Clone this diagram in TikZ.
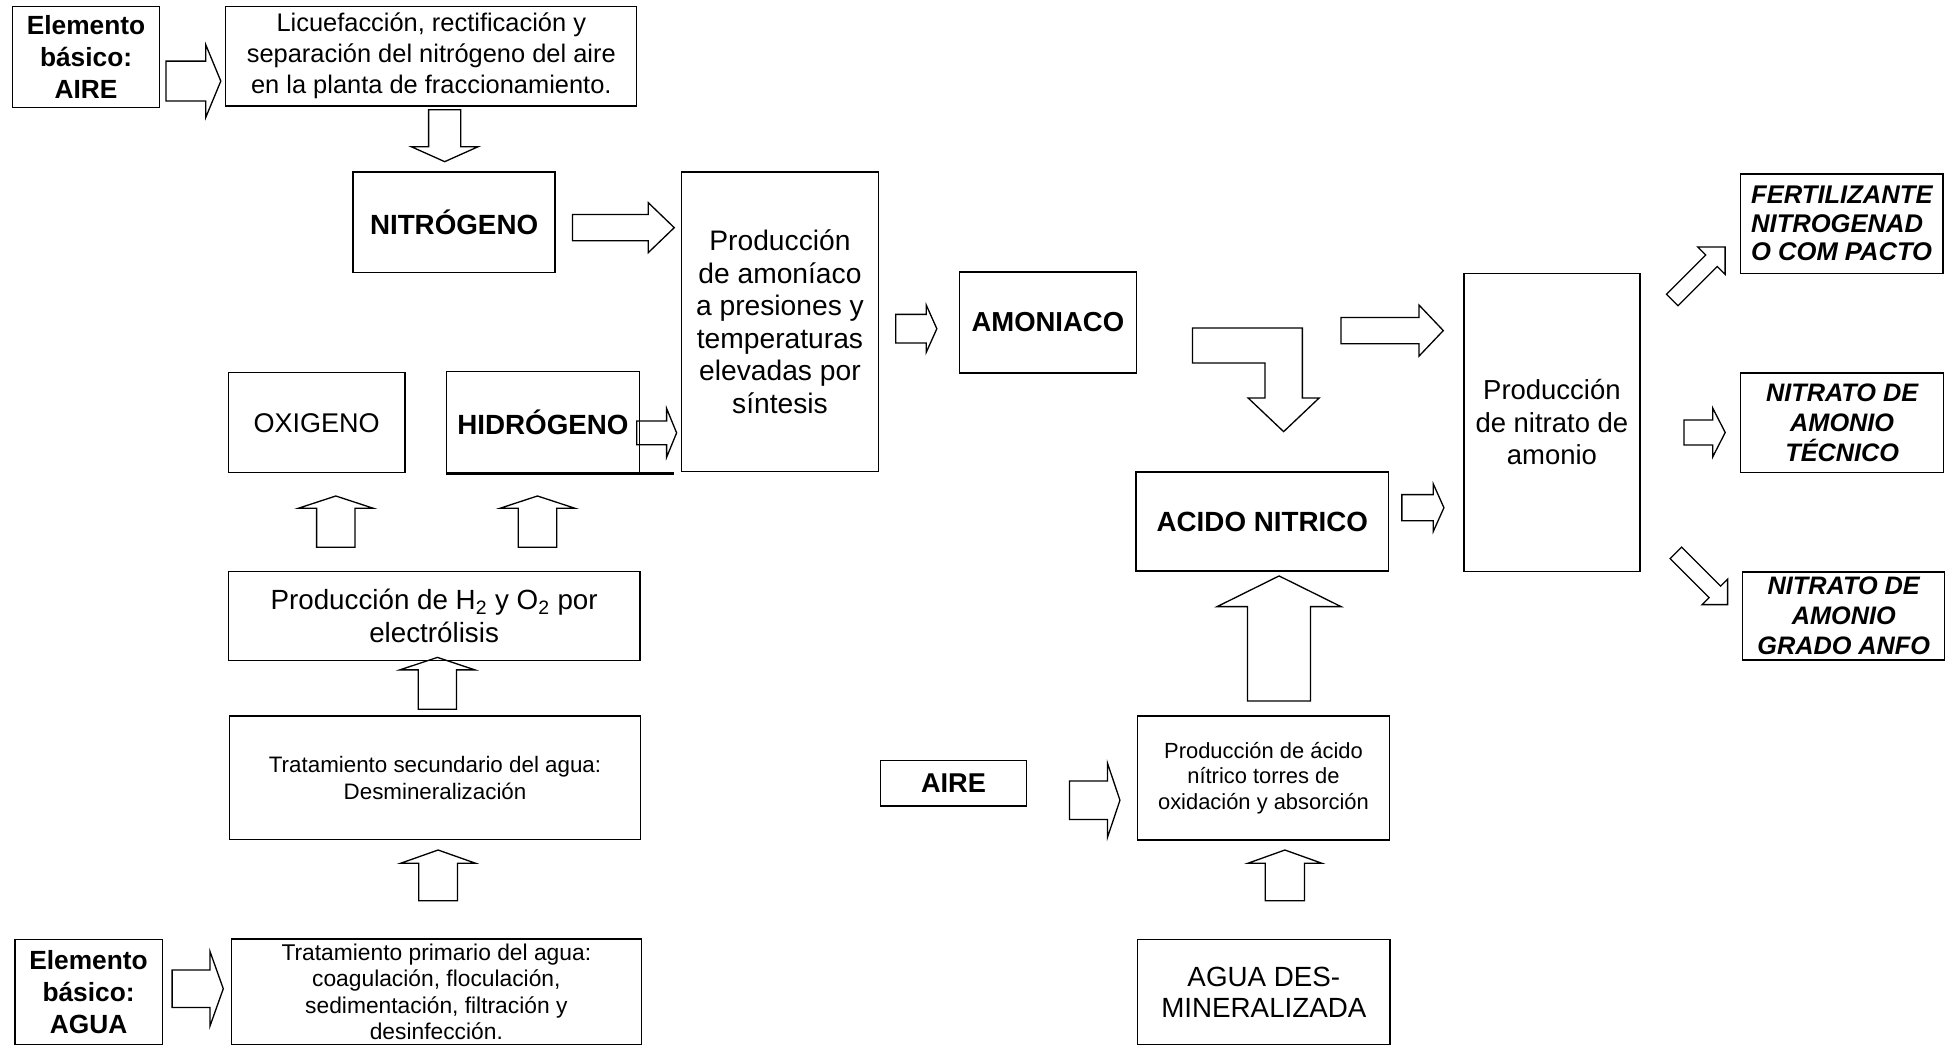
\documentclass[tikz,border=0pt]{standalone}
\usepackage{fontspec}
\setmainfont{Liberation Sans}
\newcommand\fsz[2]{\fontsize{#1}{#2}\selectfont}
% box: [style]{name}{left}{top}{right}{bottom}{text}
\newcommand\bx[7][]{%
  \node[box, #1, minimum width={(#5-#3)*0.3mm}, minimum height={(#6-#4)*0.3mm}]
    (#2) at ({(#3+#5)/2},{(#4+#6)/2}) {#7};}
% tail centre, angle, length, shaft half width, head half width, head length
\newcommand\blockarr[6]{%
  \draw[arrowline, shift={#1}, rotate=#2] (0,-#4) -- ({#3-#6},-#4) -- ({#3-#6},-#5) -- (#3,0)
    -- ({#3-#6},#5) -- ({#3-#6},#4) -- (0,#4) -- cycle;}
\begin{document}
\begin{tikzpicture}[x=0.3mm, y=-0.3mm,
  box/.style={draw, line width=0.9pt, inner sep=0pt, align=center},
  arrowline/.style={draw, line width=0.9pt, line join=miter}]
\useasboundingbox (0,0) rectangle (1568,838.5);

% boxes
\bx[font=\bfseries\fsz{18}{21.8}]{aireA}{10}{5}{128}{86}{Elemento\\básico:\\AIRE}
\bx[font=\fsz{17.4}{21.3}]{licuef}{181}{5}{510.5}{85}{Licuefacción, rectificación y\\separación del nitrógeno del aire\\en la planta de fraccionamiento.}
\bx[font=\bfseries\fsz{19}{22}]{nitro}{283}{138}{445}{218.6}{NITRÓGENO}
\bx[font=\fsz{19.3}{22.2}]{prodam}{546.5}{138}{704}{378}{Producción\\de amoníaco\\a presiones y\\temperaturas\\elevadas por\\síntesis}
\bx[font=\bfseries\fsz{18.8}{22}]{amon}{769}{218}{911}{299}{AMONIACO}
\bx[font=\fsz{18.8}{22.2}]{prodnit}{1173.5}{219}{1314.6}{458}{Producción\\de nitrato de\\amonio}
\bx[font=\bfseries\itshape\fsz{17.5}{19.6}, align=left]{fert}{1395.5}{139.5}{1557.5}{219}{FERTILIZANTE\\NITROGENAD\\O COM PACTO}
\bx[font=\bfseries\itshape\fsz{17.3}{20.5}]{tecn}{1395.5}{299}{1558}{379}{NITRATO DE\\AMONIO\\TÉCNICO}
\bx[font=\bfseries\itshape\fsz{17.3}{20.5}]{anfo}{1397}{458.6}{1559}{529}{NITRATO DE\\AMONIO\\GRADO ANFO}
\bx[font=\fsz{18.5}{22}]{oxi}{183}{298.7}{324.7}{379}{OXIGENO}
\bx[font=\bfseries\fsz{19}{22}]{hidro}{358}{298}{512.5}{379}{HIDRÓGENO}
\bx[font=\fsz{19}{22.2}]{elec}{183}{458.2}{513}{529.6}{Producción de H\textsubscript{2} y O\textsubscript{2} por\\electrólisis}
\bx[font=\fsz{15.3}{18.8}]{trat2}{184}{574}{513.5}{673}{Tratamiento secundario del agua:\\Desmineralización}
\bx[font=\fsz{15.6}{17.9}]{trat1}{185.4}{752.7}{514.2}{837.5}{Tratamiento primario del agua:\\coagulación, floculación,\\sedimentación, filtración y\\desinfección.}
\bx[font=\bfseries\fsz{18}{21.8}]{aguaA}{12}{753}{130}{837.5}{Elemento\\básico:\\AGUA}
\bx[font=\bfseries\fsz{19}{22}]{acido}{910.6}{378.4}{1113.2}{457.7}{ACIDO NITRICO}
\bx[font=\fsz{15}{17.5}]{prodac}{912}{574}{1113.7}{673.3}{Producción de ácido\\nítrico torres de\\oxidación y absorción}
\bx[font=\bfseries\fsz{18.6}{22}]{aireB}{705.7}{609.8}{823}{646}{AIRE}
\bx[font=\fsz{19}{21.3}]{aguades}{912}{753}{1114.3}{837.5}{AGUA DES-\\MINERALIZADA}

% extended bottom line of HIDROGENO
\draw[line width=1.5pt] (hidro.south west) -- ++(183,0);

% block arrows
\blockarr{(133,65)}{0}{44}{16}{29}{12}
\blockarr{(356.5,88)}{-90}{41.6}{12.9}{26.8}{12}
\blockarr{(459,182.5)}{0}{81.5}{10.5}{20}{20.8}
\blockarr{(510.4,347)}{0}{32}{9.5}{19.5}{8}
\blockarr{(718,263.5)}{0}{33}{11.5}{19}{8.5}
\draw[arrowline] (956,263) -- (1044,263) -- (1044,319) -- (1057.5,319) -- (1029,346)
  -- (1000.5,319) -- (1014,319) -- (1014,291) -- (956,291) -- cycle;
\blockarr{(1075,265)}{0}{82}{10.5}{20.5}{19.5}
\blockarr{(1123.8,407)}{0}{33.7}{10.5}{19}{8.5}
\blockarr{(1340.5,240.5)}{45}{60}{6.5}{15.5}{15.5}
\blockarr{(1350,346.7)}{0}{33}{10}{19.5}{10}
\blockarr{(1343.4,443.2)}{-45}{58.7}{6.5}{14.5}{14.5}
\blockarr{(269.2,438.7)}{90}{41.1}{15.4}{30.2}{9.9}
\blockarr{(430.85,438.7)}{90}{41.1}{15.4}{30.2}{9.9}
\blockarr{(350.65,568.6)}{90}{41.6}{15.35}{30.1}{10}
\blockarr{(351.2,722)}{90}{40.6}{15.5}{30}{10.6}
\blockarr{(138,792.6)}{0}{41}{15}{30}{10.7}
\blockarr{(857.4,641.5)}{0}{40.4}{15.4}{29.7}{10}
\blockarr{(1030,722)}{90}{40.6}{15.75}{29.6}{10.6}
\blockarr{(1025.35,562)}{90}{100.3}{25.25}{49.7}{24.6}
\end{tikzpicture}
\end{document}
